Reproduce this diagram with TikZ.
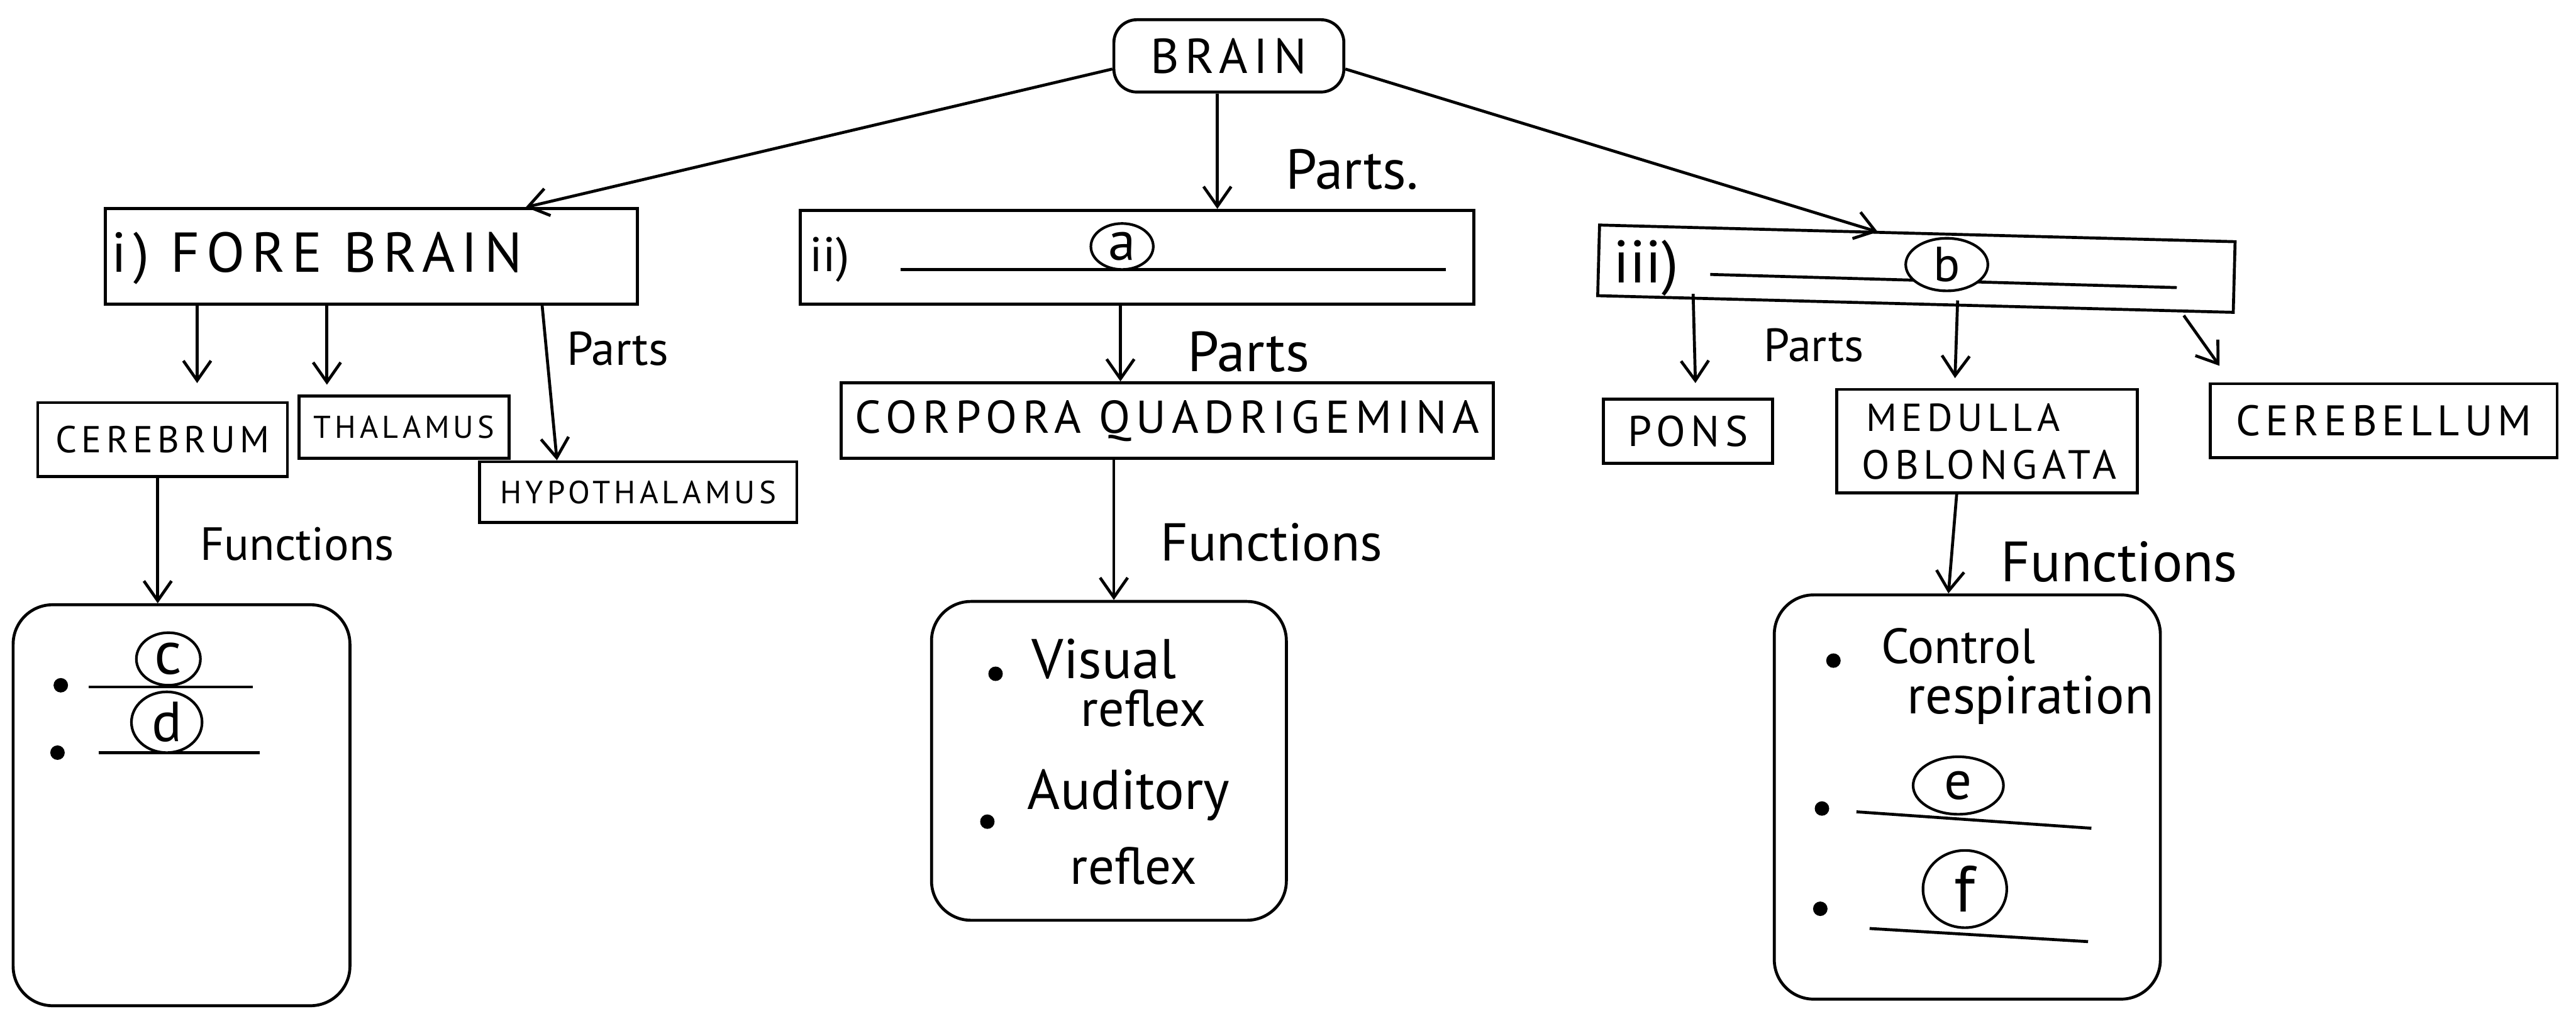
\documentclass[tikz,border=0pt]{standalone}
\usepackage{fontspec}
\usepackage{graphicx}
\setmainfont{PT Sans}
\newfontfamily\capfont[LetterSpace=12]{PT Sans}
\usetikzlibrary{arrows.meta,shapes.geometric,calc}
\newlength\pxu \setlength\pxu{0.25mm}
\newcommand\fitw[2]{\resizebox{#1\pxu}{!}{#2}}
\newcommand\fith[2]{\resizebox{!}{#1\pxu}{#2}}
\begin{document}
\begin{tikzpicture}[x=0.25mm,y=-0.25mm, line width=0.45mm,
  arr/.style={-{Straight Barb[length=3mm,width=4.2mm,line width=0.45mm]}},
  box/.style={draw, rectangle, inner sep=0pt},
  fbox/.style={draw, rectangle, rounded corners=6mm, inner sep=0pt},
  ov/.style={draw, ellipse, inner sep=0pt, line width=0.4mm},
  txt/.style={inner sep=0pt, anchor=center},
  dotb/.style={circle, fill, inner sep=0pt, minimum size=2.2mm}]
\useasboundingbox (0,0) rectangle (1568,621);

% top
\node[box, rounded corners=3.5mm, minimum width=140\pxu, minimum height=44\pxu] (brain) at (748,34) {\fitw{95}{\capfont BRAIN}};

% level 1
\node[box, minimum width=324\pxu, minimum height=58\pxu] (fore) at (226,156) {};
\node[txt] (foret) at (193,157) {\fitw{250}{\capfont i) FORE BRAIN}};

\node[box, minimum width=410\pxu, minimum height=57\pxu] (mid) at (692,156.5) {};
\node[txt] (midt) at (505,158) {\fith{21}{ii)}};
\draw (548,164) -- (880,164);
\node[ov, fill=white, minimum width=38\pxu, minimum height=28\pxu] (a) at (683,150) {\fith{17}{a}};

\node[box, rotate=-1.5, minimum width=387\pxu, minimum height=43\pxu] (hind) at (1166.5,163.5) {};
\node[txt] (hindt) at (1002,163) {\fith{26}{iii)}};
\draw (1041,167) -- (1325,175);
\node[ov, fill=white, minimum width=50\pxu, minimum height=32\pxu] (b) at (1185,161) {\fith{21}{b}};

% level 2
\node[box, minimum width=152\pxu, minimum height=45\pxu] (cer) at (99,267.5) {\fitw{130}{\capfont CEREBRUM}};
\node[box, minimum width=128\pxu, minimum height=38\pxu] (thal) at (246,260) {\fitw{110}{\capfont THALAMUS}};
\node[box, minimum width=193\pxu, minimum height=37\pxu] (hypo) at (388.5,299.5) {\fitw{168}{\capfont HYPOTHALAMUS}};
\node[box, minimum width=397\pxu, minimum height=46\pxu] (cq) at (710.5,256) {\fitw{380}{\capfont CORPORA QUADRIGEMINA}};
\node[box, minimum width=103\pxu, minimum height=39\pxu] (pons) at (1027.5,262.5) {\fitw{73}{\capfont PONS}};
\node[box, minimum width=183\pxu, minimum height=63\pxu] (med) at (1209.5,268.5) {};
\node[txt] (medt1) at (1195,254) {\fitw{118}{\capfont MEDULLA}};
\node[txt] (medt2) at (1211,283) {\fitw{155}{\capfont OBLONGATA}};
\node[box, minimum width=211\pxu, minimum height=45\pxu] (cbl) at (1451,256) {\fitw{180}{\capfont CEREBELLUM}};

% function boxes
\node[fbox, minimum width=205\pxu, minimum height=244\pxu] (f1) at (110.5,490) {};
\node[fbox, minimum width=216\pxu, minimum height=194\pxu] (f2) at (675,463) {};
\node[fbox, minimum width=235\pxu, minimum height=246\pxu] (f3) at (1197.5,485) {};

% f1 contents
\node[dotb] (d1) at (37,417) {};
\node[dotb] (d2) at (35,458) {};
\draw (54,418) -- (154,418);
\draw (60,458) -- (158,458);
\node[ov, fill=white, minimum width=39\pxu, minimum height=32\pxu] (c) at (102.5,401) {\fith{19}{c}};
\node[ov, fill=white, minimum width=43\pxu, minimum height=37\pxu] (d) at (101.5,439.5) {\fith{24}{d}};

% f2 contents
\node[dotb] (d3) at (606,410) {};
\node[txt] (vis) at (672,401) {\fitw{88}{Visual}};
\node[txt] (ref1) at (696,431) {\fitw{76}{reflex}};
\node[dotb] (d4) at (601,500) {};
\node[txt] (aud) at (687,484) {\fitw{123}{Auditory}};
\node[txt] (ref2) at (690,527) {\fitw{77}{reflex}};

% f3 contents
\node[dotb] (d5) at (1116,402) {};
\node[txt] (ctl) at (1192,393) {\fitw{94}{Control}};
\node[txt] (resp) at (1236,426) {\fitw{150}{respiration}};
\node[dotb] (d6) at (1109,492) {};
\draw (1130,494) -- (1273,504);
\node[ov, fill=white, minimum width=55\pxu, minimum height=35\pxu] (e) at (1192,478) {\fith{17}{e}};
\node[dotb] (d7) at (1108,553) {};
\draw (1138,565) -- (1271,573);
\node[ov, fill=white, minimum width=51\pxu, minimum height=47\pxu] (f) at (1196,541) {\fith{28}{f}};

% labels
\node[txt] (p0) at (823,103) {\fitw{81}{Parts.}};
\node[txt] (p1) at (376,212) {\fitw{62}{Parts}};
\node[txt] (p2) at (760,214) {\fitw{74}{Parts}};
\node[txt] (p3) at (1104,210) {\fitw{61}{Parts}};
\node[txt] (fn1) at (181,331) {\fitw{118}{Functions}};
\node[txt] (fn2) at (774,330) {\fitw{135}{Functions}};
\node[txt] (fn3) at (1290,342) {\fitw{144}{Functions}};

% connectors
\draw[arr] ($(brain.west)+(0,8)$) -- (fore.north -| 320,0);
\draw[arr] (brain.south -| 741,0) -- (mid.north -| 741,0);
\draw[arr] ($(brain.east)+(0,8)$) -- (hind.north -| 1143,0);

\draw[arr] (fore.south -| 120,0) -- ($(cer.north -| 120,0)+(0,-11)$);
\draw[arr] (fore.south -| 199,0) -- ($(thal.north -| 199,0)+(0,-6)$);
\draw[arr] (fore.south -| 330,0) -- (hypo.north -| 339,0);
\draw[arr] (mid.south -| 682,0) -- (cq.north -| 682,0);
\draw[arr] ($(hind.south west)+(59,-2)$) -- ($(pons.north -| 1032,0)+(0,-9)$);
\draw[arr] ($(hind.south west)+(220,2)$) -- ($(med.north -| 1190,0)+(0,-6)$);
\draw[arr] ($(hind.south east)+(-31,1)$) -- ($(cbl.north -| 1351,0)+(0,-10)$);

\draw[arr] (cer.south -| 96,0) -- (f1.north -| 96,0);
\draw[arr] (cq.south -| 678,0) -- (f2.north -| 678,0);
\draw[arr] (med.south -| 1191,0) -- (f3.north -| 1186,0);
\end{tikzpicture}
\end{document}
